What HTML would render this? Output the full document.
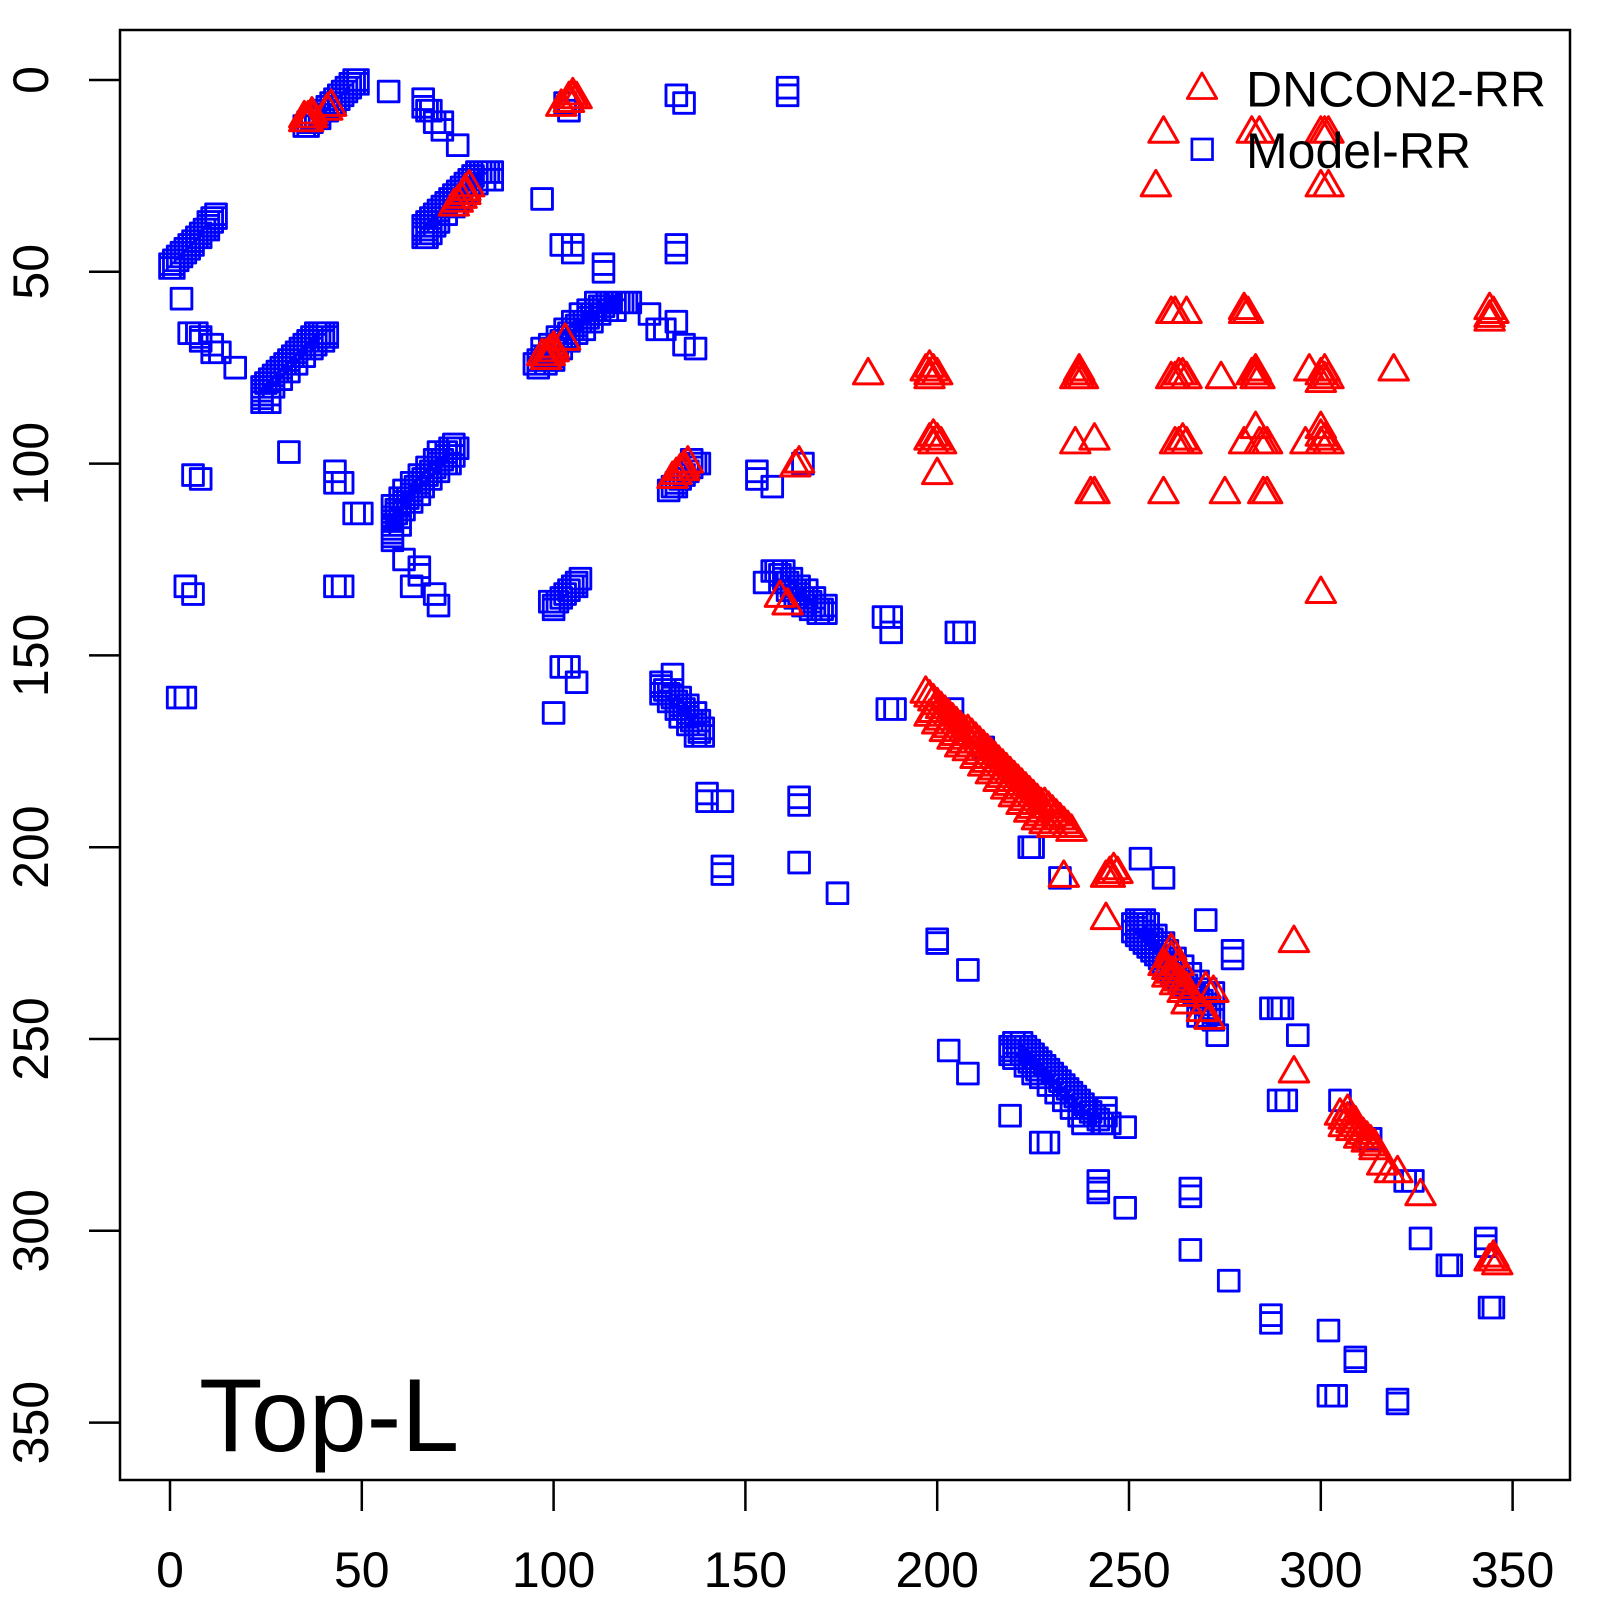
<!DOCTYPE html>
<html><head><meta charset="utf-8"><style>html,body{margin:0;padding:0;background:#fff}svg{display:block}text{font-family:"Liberation Sans",Arial,sans-serif;fill:#000}</style></head>
<body>
<svg width="1600" height="1600" viewBox="0 0 1600 1600">
<rect width="1600" height="1600" fill="#fff"/>
<g transform="translate(170 80) scale(3.836)" fill="none" stroke-linejoin="round">
<path stroke="#00f" stroke-width="0.75" d="M35 12m-2.7-2.7h5.4v5.4h-5.4zM36 11m-2.7-2.7h5.4v5.4h-5.4zM37 10m-2.7-2.7h5.4v5.4h-5.4zM38 10m-2.7-2.7h5.4v5.4h-5.4zM39 9m-2.7-2.7h5.4v5.4h-5.4zM40 8m-2.7-2.7h5.4v5.4h-5.4zM41 7m-2.7-2.7h5.4v5.4h-5.4zM42 6m-2.7-2.7h5.4v5.4h-5.4zM43 5m-2.7-2.7h5.4v5.4h-5.4zM44 4m-2.7-2.7h5.4v5.4h-5.4zM45 3m-2.7-2.7h5.4v5.4h-5.4zM46 2m-2.7-2.7h5.4v5.4h-5.4zM47 1m-2.7-2.7h5.4v5.4h-5.4zM48 1m-2.7-2.7h5.4v5.4h-5.4zM49 1m-2.7-2.7h5.4v5.4h-5.4zM36 12m-2.7-2.7h5.4v5.4h-5.4zM37 11m-2.7-2.7h5.4v5.4h-5.4zM39 10m-2.7-2.7h5.4v5.4h-5.4zM41 8m-2.7-2.7h5.4v5.4h-5.4zM43 6m-2.7-2.7h5.4v5.4h-5.4zM44 5m-2.7-2.7h5.4v5.4h-5.4zM45 4m-2.7-2.7h5.4v5.4h-5.4zM46 3m-2.7-2.7h5.4v5.4h-5.4zM47 2m-2.7-2.7h5.4v5.4h-5.4zM48 0m-2.7-2.7h5.4v5.4h-5.4zM49 0m-2.7-2.7h5.4v5.4h-5.4zM57 3m-2.7-2.7h5.4v5.4h-5.4zM66 5m-2.7-2.7h5.4v5.4h-5.4zM66 7m-2.7-2.7h5.4v5.4h-5.4zM67 8m-2.7-2.7h5.4v5.4h-5.4zM68 8m-2.7-2.7h5.4v5.4h-5.4zM69 11m-2.7-2.7h5.4v5.4h-5.4zM71 11m-2.7-2.7h5.4v5.4h-5.4zM71 13m-2.7-2.7h5.4v5.4h-5.4zM75 17m-2.7-2.7h5.4v5.4h-5.4zM66 41m-2.7-2.7h5.4v5.4h-5.4zM66 40m-2.7-2.7h5.4v5.4h-5.4zM66 39m-2.7-2.7h5.4v5.4h-5.4zM66 38m-2.7-2.7h5.4v5.4h-5.4zM67 37m-2.7-2.7h5.4v5.4h-5.4zM67 41m-2.7-2.7h5.4v5.4h-5.4zM68 36m-2.7-2.7h5.4v5.4h-5.4zM68 40m-2.7-2.7h5.4v5.4h-5.4zM69 35m-2.7-2.7h5.4v5.4h-5.4zM69 38m-2.7-2.7h5.4v5.4h-5.4zM70 34m-2.7-2.7h5.4v5.4h-5.4zM71 33m-2.7-2.7h5.4v5.4h-5.4zM72 32m-2.7-2.7h5.4v5.4h-5.4zM72 35m-2.7-2.7h5.4v5.4h-5.4zM73 31m-2.7-2.7h5.4v5.4h-5.4zM74 30m-2.7-2.7h5.4v5.4h-5.4zM75 29m-2.7-2.7h5.4v5.4h-5.4zM76 28m-2.7-2.7h5.4v5.4h-5.4zM77 27m-2.7-2.7h5.4v5.4h-5.4zM78 26m-2.7-2.7h5.4v5.4h-5.4zM79 25m-2.7-2.7h5.4v5.4h-5.4zM80 24m-2.7-2.7h5.4v5.4h-5.4zM81 24m-2.7-2.7h5.4v5.4h-5.4zM82 24m-2.7-2.7h5.4v5.4h-5.4zM83 24m-2.7-2.7h5.4v5.4h-5.4zM84 24m-2.7-2.7h5.4v5.4h-5.4zM84 26m-2.7-2.7h5.4v5.4h-5.4zM82 26m-2.7-2.7h5.4v5.4h-5.4zM80 27m-2.7-2.7h5.4v5.4h-5.4zM78 29m-2.7-2.7h5.4v5.4h-5.4zM76 31m-2.7-2.7h5.4v5.4h-5.4zM74 33m-2.7-2.7h5.4v5.4h-5.4zM70 37m-2.7-2.7h5.4v5.4h-5.4zM68 38m-2.7-2.7h5.4v5.4h-5.4zM67 39m-2.7-2.7h5.4v5.4h-5.4zM97 31m-2.7-2.7h5.4v5.4h-5.4zM103 6m-2.7-2.7h5.4v5.4h-5.4zM104 8m-2.7-2.7h5.4v5.4h-5.4zM102 43m-2.7-2.7h5.4v5.4h-5.4zM105 43m-2.7-2.7h5.4v5.4h-5.4zM105 45m-2.7-2.7h5.4v5.4h-5.4zM113 48m-2.7-2.7h5.4v5.4h-5.4zM113 50m-2.7-2.7h5.4v5.4h-5.4zM132 43m-2.7-2.7h5.4v5.4h-5.4zM132 45m-2.7-2.7h5.4v5.4h-5.4zM132 4m-2.7-2.7h5.4v5.4h-5.4zM134 6m-2.7-2.7h5.4v5.4h-5.4zM161 2m-2.7-2.7h5.4v5.4h-5.4zM161 4m-2.7-2.7h5.4v5.4h-5.4zM95 74m-2.7-2.7h5.4v5.4h-5.4zM96 73m-2.7-2.7h5.4v5.4h-5.4zM97 72m-2.7-2.7h5.4v5.4h-5.4zM98 72m-2.7-2.7h5.4v5.4h-5.4zM99 71m-2.7-2.7h5.4v5.4h-5.4zM100 70m-2.7-2.7h5.4v5.4h-5.4zM101 69m-2.7-2.7h5.4v5.4h-5.4zM102 68m-2.7-2.7h5.4v5.4h-5.4zM103 67m-2.7-2.7h5.4v5.4h-5.4zM104 66m-2.7-2.7h5.4v5.4h-5.4zM105 65m-2.7-2.7h5.4v5.4h-5.4zM106 64m-2.7-2.7h5.4v5.4h-5.4zM107 63m-2.7-2.7h5.4v5.4h-5.4zM108 63m-2.7-2.7h5.4v5.4h-5.4zM109 62m-2.7-2.7h5.4v5.4h-5.4zM110 61m-2.7-2.7h5.4v5.4h-5.4zM111 60m-2.7-2.7h5.4v5.4h-5.4zM112 59m-2.7-2.7h5.4v5.4h-5.4zM113 59m-2.7-2.7h5.4v5.4h-5.4zM114 58m-2.7-2.7h5.4v5.4h-5.4zM115 58m-2.7-2.7h5.4v5.4h-5.4zM116 58m-2.7-2.7h5.4v5.4h-5.4zM117 58m-2.7-2.7h5.4v5.4h-5.4zM118 58m-2.7-2.7h5.4v5.4h-5.4zM119 58m-2.7-2.7h5.4v5.4h-5.4zM120 58m-2.7-2.7h5.4v5.4h-5.4zM96 75m-2.7-2.7h5.4v5.4h-5.4zM98 74m-2.7-2.7h5.4v5.4h-5.4zM100 72m-2.7-2.7h5.4v5.4h-5.4zM102 70m-2.7-2.7h5.4v5.4h-5.4zM104 68m-2.7-2.7h5.4v5.4h-5.4zM106 66m-2.7-2.7h5.4v5.4h-5.4zM108 65m-2.7-2.7h5.4v5.4h-5.4zM110 63m-2.7-2.7h5.4v5.4h-5.4zM112 61m-2.7-2.7h5.4v5.4h-5.4zM114 60m-2.7-2.7h5.4v5.4h-5.4zM116 60m-2.7-2.7h5.4v5.4h-5.4zM100 73m-2.7-2.7h5.4v5.4h-5.4zM97 70m-2.7-2.7h5.4v5.4h-5.4zM99 69m-2.7-2.7h5.4v5.4h-5.4zM101 67m-2.7-2.7h5.4v5.4h-5.4zM103 65m-2.7-2.7h5.4v5.4h-5.4zM105 63m-2.7-2.7h5.4v5.4h-5.4zM107 61m-2.7-2.7h5.4v5.4h-5.4zM109 60m-2.7-2.7h5.4v5.4h-5.4zM111 58m-2.7-2.7h5.4v5.4h-5.4zM125 61m-2.7-2.7h5.4v5.4h-5.4zM127 65m-2.7-2.7h5.4v5.4h-5.4zM129 65m-2.7-2.7h5.4v5.4h-5.4zM132 63m-2.7-2.7h5.4v5.4h-5.4zM134 69m-2.7-2.7h5.4v5.4h-5.4zM137 70m-2.7-2.7h5.4v5.4h-5.4zM130 107m-2.7-2.7h5.4v5.4h-5.4zM131 106m-2.7-2.7h5.4v5.4h-5.4zM132 105m-2.7-2.7h5.4v5.4h-5.4zM133 104m-2.7-2.7h5.4v5.4h-5.4zM134 103m-2.7-2.7h5.4v5.4h-5.4zM135 102m-2.7-2.7h5.4v5.4h-5.4zM136 101m-2.7-2.7h5.4v5.4h-5.4zM137 100m-2.7-2.7h5.4v5.4h-5.4zM138 100m-2.7-2.7h5.4v5.4h-5.4zM132 106m-2.7-2.7h5.4v5.4h-5.4zM136 99m-2.7-2.7h5.4v5.4h-5.4zM153 102m-2.7-2.7h5.4v5.4h-5.4zM153 104m-2.7-2.7h5.4v5.4h-5.4zM157 106m-2.7-2.7h5.4v5.4h-5.4zM165 100m-2.7-2.7h5.4v5.4h-5.4zM155 131m-2.7-2.7h5.4v5.4h-5.4zM157 128m-2.7-2.7h5.4v5.4h-5.4zM158 128m-2.7-2.7h5.4v5.4h-5.4zM159 129m-2.7-2.7h5.4v5.4h-5.4zM160 130m-2.7-2.7h5.4v5.4h-5.4zM161 131m-2.7-2.7h5.4v5.4h-5.4zM162 132m-2.7-2.7h5.4v5.4h-5.4zM163 133m-2.7-2.7h5.4v5.4h-5.4zM164 134m-2.7-2.7h5.4v5.4h-5.4zM165 135m-2.7-2.7h5.4v5.4h-5.4zM166 135m-2.7-2.7h5.4v5.4h-5.4zM167 136m-2.7-2.7h5.4v5.4h-5.4zM168 137m-2.7-2.7h5.4v5.4h-5.4zM169 138m-2.7-2.7h5.4v5.4h-5.4zM170 138m-2.7-2.7h5.4v5.4h-5.4zM171 139m-2.7-2.7h5.4v5.4h-5.4zM159 131m-2.7-2.7h5.4v5.4h-5.4zM161 133m-2.7-2.7h5.4v5.4h-5.4zM163 135m-2.7-2.7h5.4v5.4h-5.4zM165 137m-2.7-2.7h5.4v5.4h-5.4zM167 138m-2.7-2.7h5.4v5.4h-5.4zM169 139m-2.7-2.7h5.4v5.4h-5.4zM171 137m-2.7-2.7h5.4v5.4h-5.4zM160 128m-2.7-2.7h5.4v5.4h-5.4zM162 130m-2.7-2.7h5.4v5.4h-5.4zM164 132m-2.7-2.7h5.4v5.4h-5.4zM166 133m-2.7-2.7h5.4v5.4h-5.4zM168 135m-2.7-2.7h5.4v5.4h-5.4zM186 140m-2.7-2.7h5.4v5.4h-5.4zM188 140m-2.7-2.7h5.4v5.4h-5.4zM188 144m-2.7-2.7h5.4v5.4h-5.4zM205 144m-2.7-2.7h5.4v5.4h-5.4zM207 144m-2.7-2.7h5.4v5.4h-5.4zM187 164m-2.7-2.7h5.4v5.4h-5.4zM189 164m-2.7-2.7h5.4v5.4h-5.4zM204 164m-2.7-2.7h5.4v5.4h-5.4zM212 174m-2.7-2.7h5.4v5.4h-5.4zM224 200m-2.7-2.7h5.4v5.4h-5.4zM225 200m-2.7-2.7h5.4v5.4h-5.4zM232 208m-2.7-2.7h5.4v5.4h-5.4zM253 203m-2.7-2.7h5.4v5.4h-5.4zM259 208m-2.7-2.7h5.4v5.4h-5.4zM270 219m-2.7-2.7h5.4v5.4h-5.4zM277 227m-2.7-2.7h5.4v5.4h-5.4zM277 229m-2.7-2.7h5.4v5.4h-5.4zM287 242m-2.7-2.7h5.4v5.4h-5.4zM289 242m-2.7-2.7h5.4v5.4h-5.4zM290 242m-2.7-2.7h5.4v5.4h-5.4zM273 249m-2.7-2.7h5.4v5.4h-5.4zM294 249m-2.7-2.7h5.4v5.4h-5.4zM289 266m-2.7-2.7h5.4v5.4h-5.4zM291 266m-2.7-2.7h5.4v5.4h-5.4zM305 266m-2.7-2.7h5.4v5.4h-5.4zM313 276m-2.7-2.7h5.4v5.4h-5.4zM322 287m-2.7-2.7h5.4v5.4h-5.4zM324 287m-2.7-2.7h5.4v5.4h-5.4zM326 302m-2.7-2.7h5.4v5.4h-5.4zM333 309m-2.7-2.7h5.4v5.4h-5.4zM334 309m-2.7-2.7h5.4v5.4h-5.4zM343 302m-2.7-2.7h5.4v5.4h-5.4zM343 304m-2.7-2.7h5.4v5.4h-5.4zM344 320m-2.7-2.7h5.4v5.4h-5.4zM345 320m-2.7-2.7h5.4v5.4h-5.4zM251 220m-2.7-2.7h5.4v5.4h-5.4zM252 219m-2.7-2.7h5.4v5.4h-5.4zM253 219m-2.7-2.7h5.4v5.4h-5.4zM254 219m-2.7-2.7h5.4v5.4h-5.4zM251 222m-2.7-2.7h5.4v5.4h-5.4zM252 223m-2.7-2.7h5.4v5.4h-5.4zM253 224m-2.7-2.7h5.4v5.4h-5.4zM254 225m-2.7-2.7h5.4v5.4h-5.4zM255 226m-2.7-2.7h5.4v5.4h-5.4zM256 227m-2.7-2.7h5.4v5.4h-5.4zM257 228m-2.7-2.7h5.4v5.4h-5.4zM258 229m-2.7-2.7h5.4v5.4h-5.4zM259 230m-2.7-2.7h5.4v5.4h-5.4zM260 231m-2.7-2.7h5.4v5.4h-5.4zM261 232m-2.7-2.7h5.4v5.4h-5.4zM262 233m-2.7-2.7h5.4v5.4h-5.4zM263 234m-2.7-2.7h5.4v5.4h-5.4zM264 235m-2.7-2.7h5.4v5.4h-5.4zM265 236m-2.7-2.7h5.4v5.4h-5.4zM266 237m-2.7-2.7h5.4v5.4h-5.4zM267 238m-2.7-2.7h5.4v5.4h-5.4zM268 239m-2.7-2.7h5.4v5.4h-5.4zM269 240m-2.7-2.7h5.4v5.4h-5.4zM270 241m-2.7-2.7h5.4v5.4h-5.4zM271 242m-2.7-2.7h5.4v5.4h-5.4zM272 243m-2.7-2.7h5.4v5.4h-5.4zM268 244m-2.7-2.7h5.4v5.4h-5.4zM270 244m-2.7-2.7h5.4v5.4h-5.4zM272 245m-2.7-2.7h5.4v5.4h-5.4zM254 222m-2.7-2.7h5.4v5.4h-5.4zM256 224m-2.7-2.7h5.4v5.4h-5.4zM258 226m-2.7-2.7h5.4v5.4h-5.4zM260 227m-2.7-2.7h5.4v5.4h-5.4zM262 229m-2.7-2.7h5.4v5.4h-5.4zM264 231m-2.7-2.7h5.4v5.4h-5.4zM266 233m-2.7-2.7h5.4v5.4h-5.4zM268 235m-2.7-2.7h5.4v5.4h-5.4zM270 237m-2.7-2.7h5.4v5.4h-5.4zM272 238m-2.7-2.7h5.4v5.4h-5.4zM252 221m-2.7-2.7h5.4v5.4h-5.4zM255 220m-2.7-2.7h5.4v5.4h-5.4zM257 223m-2.7-2.7h5.4v5.4h-5.4zM259 225m-2.7-2.7h5.4v5.4h-5.4z"/>
<path stroke="#00f" stroke-width="0.75" transform="matrix(0 1 1 0 0 0)" d="M35 12m-2.7-2.7h5.4v5.4h-5.4zM36 11m-2.7-2.7h5.4v5.4h-5.4zM37 10m-2.7-2.7h5.4v5.4h-5.4zM38 10m-2.7-2.7h5.4v5.4h-5.4zM39 9m-2.7-2.7h5.4v5.4h-5.4zM40 8m-2.7-2.7h5.4v5.4h-5.4zM41 7m-2.7-2.7h5.4v5.4h-5.4zM42 6m-2.7-2.7h5.4v5.4h-5.4zM43 5m-2.7-2.7h5.4v5.4h-5.4zM44 4m-2.7-2.7h5.4v5.4h-5.4zM45 3m-2.7-2.7h5.4v5.4h-5.4zM46 2m-2.7-2.7h5.4v5.4h-5.4zM47 1m-2.7-2.7h5.4v5.4h-5.4zM48 1m-2.7-2.7h5.4v5.4h-5.4zM49 1m-2.7-2.7h5.4v5.4h-5.4zM36 12m-2.7-2.7h5.4v5.4h-5.4zM37 11m-2.7-2.7h5.4v5.4h-5.4zM39 10m-2.7-2.7h5.4v5.4h-5.4zM41 8m-2.7-2.7h5.4v5.4h-5.4zM43 6m-2.7-2.7h5.4v5.4h-5.4zM44 5m-2.7-2.7h5.4v5.4h-5.4zM45 4m-2.7-2.7h5.4v5.4h-5.4zM46 3m-2.7-2.7h5.4v5.4h-5.4zM47 2m-2.7-2.7h5.4v5.4h-5.4zM48 0m-2.7-2.7h5.4v5.4h-5.4zM49 0m-2.7-2.7h5.4v5.4h-5.4zM57 3m-2.7-2.7h5.4v5.4h-5.4zM66 5m-2.7-2.7h5.4v5.4h-5.4zM66 7m-2.7-2.7h5.4v5.4h-5.4zM67 8m-2.7-2.7h5.4v5.4h-5.4zM68 8m-2.7-2.7h5.4v5.4h-5.4zM69 11m-2.7-2.7h5.4v5.4h-5.4zM71 11m-2.7-2.7h5.4v5.4h-5.4zM71 13m-2.7-2.7h5.4v5.4h-5.4zM75 17m-2.7-2.7h5.4v5.4h-5.4zM66 41m-2.7-2.7h5.4v5.4h-5.4zM66 40m-2.7-2.7h5.4v5.4h-5.4zM66 39m-2.7-2.7h5.4v5.4h-5.4zM66 38m-2.7-2.7h5.4v5.4h-5.4zM67 37m-2.7-2.7h5.4v5.4h-5.4zM67 41m-2.7-2.7h5.4v5.4h-5.4zM68 36m-2.7-2.7h5.4v5.4h-5.4zM68 40m-2.7-2.7h5.4v5.4h-5.4zM69 35m-2.7-2.7h5.4v5.4h-5.4zM69 38m-2.7-2.7h5.4v5.4h-5.4zM70 34m-2.7-2.7h5.4v5.4h-5.4zM71 33m-2.7-2.7h5.4v5.4h-5.4zM72 32m-2.7-2.7h5.4v5.4h-5.4zM72 35m-2.7-2.7h5.4v5.4h-5.4zM73 31m-2.7-2.7h5.4v5.4h-5.4zM74 30m-2.7-2.7h5.4v5.4h-5.4zM75 29m-2.7-2.7h5.4v5.4h-5.4zM76 28m-2.7-2.7h5.4v5.4h-5.4zM77 27m-2.7-2.7h5.4v5.4h-5.4zM78 26m-2.7-2.7h5.4v5.4h-5.4zM79 25m-2.7-2.7h5.4v5.4h-5.4zM80 24m-2.7-2.7h5.4v5.4h-5.4zM81 24m-2.7-2.7h5.4v5.4h-5.4zM82 24m-2.7-2.7h5.4v5.4h-5.4zM83 24m-2.7-2.7h5.4v5.4h-5.4zM84 24m-2.7-2.7h5.4v5.4h-5.4zM84 26m-2.7-2.7h5.4v5.4h-5.4zM82 26m-2.7-2.7h5.4v5.4h-5.4zM80 27m-2.7-2.7h5.4v5.4h-5.4zM78 29m-2.7-2.7h5.4v5.4h-5.4zM76 31m-2.7-2.7h5.4v5.4h-5.4zM74 33m-2.7-2.7h5.4v5.4h-5.4zM70 37m-2.7-2.7h5.4v5.4h-5.4zM68 38m-2.7-2.7h5.4v5.4h-5.4zM67 39m-2.7-2.7h5.4v5.4h-5.4zM97 31m-2.7-2.7h5.4v5.4h-5.4zM103 6m-2.7-2.7h5.4v5.4h-5.4zM104 8m-2.7-2.7h5.4v5.4h-5.4zM102 43m-2.7-2.7h5.4v5.4h-5.4zM105 43m-2.7-2.7h5.4v5.4h-5.4zM105 45m-2.7-2.7h5.4v5.4h-5.4zM113 48m-2.7-2.7h5.4v5.4h-5.4zM113 50m-2.7-2.7h5.4v5.4h-5.4zM132 43m-2.7-2.7h5.4v5.4h-5.4zM132 45m-2.7-2.7h5.4v5.4h-5.4zM132 4m-2.7-2.7h5.4v5.4h-5.4zM134 6m-2.7-2.7h5.4v5.4h-5.4zM161 2m-2.7-2.7h5.4v5.4h-5.4zM161 4m-2.7-2.7h5.4v5.4h-5.4zM95 74m-2.7-2.7h5.4v5.4h-5.4zM96 73m-2.7-2.7h5.4v5.4h-5.4zM97 72m-2.7-2.7h5.4v5.4h-5.4zM98 72m-2.7-2.7h5.4v5.4h-5.4zM99 71m-2.7-2.7h5.4v5.4h-5.4zM100 70m-2.7-2.7h5.4v5.4h-5.4zM101 69m-2.7-2.7h5.4v5.4h-5.4zM102 68m-2.7-2.7h5.4v5.4h-5.4zM103 67m-2.7-2.7h5.4v5.4h-5.4zM104 66m-2.7-2.7h5.4v5.4h-5.4zM105 65m-2.7-2.7h5.4v5.4h-5.4zM106 64m-2.7-2.7h5.4v5.4h-5.4zM107 63m-2.7-2.7h5.4v5.4h-5.4zM108 63m-2.7-2.7h5.4v5.4h-5.4zM109 62m-2.7-2.7h5.4v5.4h-5.4zM110 61m-2.7-2.7h5.4v5.4h-5.4zM111 60m-2.7-2.7h5.4v5.4h-5.4zM112 59m-2.7-2.7h5.4v5.4h-5.4zM113 59m-2.7-2.7h5.4v5.4h-5.4zM114 58m-2.7-2.7h5.4v5.4h-5.4zM115 58m-2.7-2.7h5.4v5.4h-5.4zM116 58m-2.7-2.7h5.4v5.4h-5.4zM117 58m-2.7-2.7h5.4v5.4h-5.4zM118 58m-2.7-2.7h5.4v5.4h-5.4zM119 58m-2.7-2.7h5.4v5.4h-5.4zM120 58m-2.7-2.7h5.4v5.4h-5.4zM96 75m-2.7-2.7h5.4v5.4h-5.4zM98 74m-2.7-2.7h5.4v5.4h-5.4zM100 72m-2.7-2.7h5.4v5.4h-5.4zM102 70m-2.7-2.7h5.4v5.4h-5.4zM104 68m-2.7-2.7h5.4v5.4h-5.4zM106 66m-2.7-2.7h5.4v5.4h-5.4zM108 65m-2.7-2.7h5.4v5.4h-5.4zM110 63m-2.7-2.7h5.4v5.4h-5.4zM112 61m-2.7-2.7h5.4v5.4h-5.4zM114 60m-2.7-2.7h5.4v5.4h-5.4zM116 60m-2.7-2.7h5.4v5.4h-5.4zM100 73m-2.7-2.7h5.4v5.4h-5.4zM97 70m-2.7-2.7h5.4v5.4h-5.4zM99 69m-2.7-2.7h5.4v5.4h-5.4zM101 67m-2.7-2.7h5.4v5.4h-5.4zM103 65m-2.7-2.7h5.4v5.4h-5.4zM105 63m-2.7-2.7h5.4v5.4h-5.4zM107 61m-2.7-2.7h5.4v5.4h-5.4zM109 60m-2.7-2.7h5.4v5.4h-5.4zM111 58m-2.7-2.7h5.4v5.4h-5.4zM125 61m-2.7-2.7h5.4v5.4h-5.4zM127 65m-2.7-2.7h5.4v5.4h-5.4zM129 65m-2.7-2.7h5.4v5.4h-5.4zM132 63m-2.7-2.7h5.4v5.4h-5.4zM134 69m-2.7-2.7h5.4v5.4h-5.4zM137 70m-2.7-2.7h5.4v5.4h-5.4zM130 107m-2.7-2.7h5.4v5.4h-5.4zM131 106m-2.7-2.7h5.4v5.4h-5.4zM132 105m-2.7-2.7h5.4v5.4h-5.4zM133 104m-2.7-2.7h5.4v5.4h-5.4zM134 103m-2.7-2.7h5.4v5.4h-5.4zM135 102m-2.7-2.7h5.4v5.4h-5.4zM136 101m-2.7-2.7h5.4v5.4h-5.4zM137 100m-2.7-2.7h5.4v5.4h-5.4zM138 100m-2.7-2.7h5.4v5.4h-5.4zM132 106m-2.7-2.7h5.4v5.4h-5.4zM136 99m-2.7-2.7h5.4v5.4h-5.4zM153 102m-2.7-2.7h5.4v5.4h-5.4zM153 104m-2.7-2.7h5.4v5.4h-5.4zM157 106m-2.7-2.7h5.4v5.4h-5.4zM165 100m-2.7-2.7h5.4v5.4h-5.4zM155 131m-2.7-2.7h5.4v5.4h-5.4zM157 128m-2.7-2.7h5.4v5.4h-5.4zM158 128m-2.7-2.7h5.4v5.4h-5.4zM159 129m-2.7-2.7h5.4v5.4h-5.4zM160 130m-2.7-2.7h5.4v5.4h-5.4zM161 131m-2.7-2.7h5.4v5.4h-5.4zM162 132m-2.7-2.7h5.4v5.4h-5.4zM163 133m-2.7-2.7h5.4v5.4h-5.4zM164 134m-2.7-2.7h5.4v5.4h-5.4zM165 135m-2.7-2.7h5.4v5.4h-5.4zM166 135m-2.7-2.7h5.4v5.4h-5.4zM167 136m-2.7-2.7h5.4v5.4h-5.4zM168 137m-2.7-2.7h5.4v5.4h-5.4zM169 138m-2.7-2.7h5.4v5.4h-5.4zM170 138m-2.7-2.7h5.4v5.4h-5.4zM171 139m-2.7-2.7h5.4v5.4h-5.4zM159 131m-2.7-2.7h5.4v5.4h-5.4zM161 133m-2.7-2.7h5.4v5.4h-5.4zM163 135m-2.7-2.7h5.4v5.4h-5.4zM165 137m-2.7-2.7h5.4v5.4h-5.4zM167 138m-2.7-2.7h5.4v5.4h-5.4zM169 139m-2.7-2.7h5.4v5.4h-5.4zM171 137m-2.7-2.7h5.4v5.4h-5.4zM160 128m-2.7-2.7h5.4v5.4h-5.4zM162 130m-2.7-2.7h5.4v5.4h-5.4zM164 132m-2.7-2.7h5.4v5.4h-5.4zM166 133m-2.7-2.7h5.4v5.4h-5.4zM168 135m-2.7-2.7h5.4v5.4h-5.4zM186 140m-2.7-2.7h5.4v5.4h-5.4zM188 140m-2.7-2.7h5.4v5.4h-5.4zM188 144m-2.7-2.7h5.4v5.4h-5.4zM205 144m-2.7-2.7h5.4v5.4h-5.4zM207 144m-2.7-2.7h5.4v5.4h-5.4zM187 164m-2.7-2.7h5.4v5.4h-5.4zM189 164m-2.7-2.7h5.4v5.4h-5.4zM204 164m-2.7-2.7h5.4v5.4h-5.4zM212 174m-2.7-2.7h5.4v5.4h-5.4zM224 200m-2.7-2.7h5.4v5.4h-5.4zM225 200m-2.7-2.7h5.4v5.4h-5.4zM232 208m-2.7-2.7h5.4v5.4h-5.4zM253 203m-2.7-2.7h5.4v5.4h-5.4zM259 208m-2.7-2.7h5.4v5.4h-5.4zM270 219m-2.7-2.7h5.4v5.4h-5.4zM277 227m-2.7-2.7h5.4v5.4h-5.4zM277 229m-2.7-2.7h5.4v5.4h-5.4zM287 242m-2.7-2.7h5.4v5.4h-5.4zM289 242m-2.7-2.7h5.4v5.4h-5.4zM290 242m-2.7-2.7h5.4v5.4h-5.4zM273 249m-2.7-2.7h5.4v5.4h-5.4zM294 249m-2.7-2.7h5.4v5.4h-5.4zM289 266m-2.7-2.7h5.4v5.4h-5.4zM291 266m-2.7-2.7h5.4v5.4h-5.4zM305 266m-2.7-2.7h5.4v5.4h-5.4zM313 276m-2.7-2.7h5.4v5.4h-5.4zM322 287m-2.7-2.7h5.4v5.4h-5.4zM324 287m-2.7-2.7h5.4v5.4h-5.4zM326 302m-2.7-2.7h5.4v5.4h-5.4zM333 309m-2.7-2.7h5.4v5.4h-5.4zM334 309m-2.7-2.7h5.4v5.4h-5.4zM343 302m-2.7-2.7h5.4v5.4h-5.4zM343 304m-2.7-2.7h5.4v5.4h-5.4zM344 320m-2.7-2.7h5.4v5.4h-5.4zM345 320m-2.7-2.7h5.4v5.4h-5.4zM251 220m-2.7-2.7h5.4v5.4h-5.4zM252 219m-2.7-2.7h5.4v5.4h-5.4zM253 219m-2.7-2.7h5.4v5.4h-5.4zM254 219m-2.7-2.7h5.4v5.4h-5.4zM251 222m-2.7-2.7h5.4v5.4h-5.4zM252 223m-2.7-2.7h5.4v5.4h-5.4zM253 224m-2.7-2.7h5.4v5.4h-5.4zM254 225m-2.7-2.7h5.4v5.4h-5.4zM255 226m-2.7-2.7h5.4v5.4h-5.4zM256 227m-2.7-2.7h5.4v5.4h-5.4zM257 228m-2.7-2.7h5.4v5.4h-5.4zM258 229m-2.7-2.7h5.4v5.4h-5.4zM259 230m-2.7-2.7h5.4v5.4h-5.4zM260 231m-2.7-2.7h5.4v5.4h-5.4zM261 232m-2.7-2.7h5.4v5.4h-5.4zM262 233m-2.7-2.7h5.4v5.4h-5.4zM263 234m-2.7-2.7h5.4v5.4h-5.4zM264 235m-2.7-2.7h5.4v5.4h-5.4zM265 236m-2.7-2.7h5.4v5.4h-5.4zM266 237m-2.7-2.7h5.4v5.4h-5.4zM267 238m-2.7-2.7h5.4v5.4h-5.4zM268 239m-2.7-2.7h5.4v5.4h-5.4zM269 240m-2.7-2.7h5.4v5.4h-5.4zM270 241m-2.7-2.7h5.4v5.4h-5.4zM271 242m-2.7-2.7h5.4v5.4h-5.4zM272 243m-2.7-2.7h5.4v5.4h-5.4zM268 244m-2.7-2.7h5.4v5.4h-5.4zM270 244m-2.7-2.7h5.4v5.4h-5.4zM272 245m-2.7-2.7h5.4v5.4h-5.4zM254 222m-2.7-2.7h5.4v5.4h-5.4zM256 224m-2.7-2.7h5.4v5.4h-5.4zM258 226m-2.7-2.7h5.4v5.4h-5.4zM260 227m-2.7-2.7h5.4v5.4h-5.4zM262 229m-2.7-2.7h5.4v5.4h-5.4zM264 231m-2.7-2.7h5.4v5.4h-5.4zM266 233m-2.7-2.7h5.4v5.4h-5.4zM268 235m-2.7-2.7h5.4v5.4h-5.4zM270 237m-2.7-2.7h5.4v5.4h-5.4zM272 238m-2.7-2.7h5.4v5.4h-5.4zM252 221m-2.7-2.7h5.4v5.4h-5.4zM255 220m-2.7-2.7h5.4v5.4h-5.4zM257 223m-2.7-2.7h5.4v5.4h-5.4zM259 225m-2.7-2.7h5.4v5.4h-5.4z"/>
<path stroke="#f00" stroke-width="0.78" d="M35 11m0-4.43l3.84 6.65h-7.68zM36 10m0-4.43l3.84 6.65h-7.68zM37 9m0-4.43l3.84 6.65h-7.68zM36 11m0-4.43l3.84 6.65h-7.68zM35 10m0-4.43l3.84 6.65h-7.68zM37 10m0-4.43l3.84 6.65h-7.68zM41 8m0-4.43l3.84 6.65h-7.68zM42 7m0-4.43l3.84 6.65h-7.68zM74 33m0-4.43l3.84 6.65h-7.68zM75 32m0-4.43l3.84 6.65h-7.68zM76 31m0-4.43l3.84 6.65h-7.68zM77 30m0-4.43l3.84 6.65h-7.68zM78 28m0-4.43l3.84 6.65h-7.68zM77 29m0-4.43l3.84 6.65h-7.68zM102 7m0-4.43l3.84 6.65h-7.68zM104 6m0-4.43l3.84 6.65h-7.68zM104 5m0-4.43l3.84 6.65h-7.68zM105 4m0-4.43l3.84 6.65h-7.68zM105 5m0-4.43l3.84 6.65h-7.68zM106 5m0-4.43l3.84 6.65h-7.68zM97 72m0-4.43l3.84 6.65h-7.68zM98 72m0-4.43l3.84 6.65h-7.68zM98 73m0-4.43l3.84 6.65h-7.68zM99 71m0-4.43l3.84 6.65h-7.68zM99 72m0-4.43l3.84 6.65h-7.68zM100 71m0-4.43l3.84 6.65h-7.68zM100 70m0-4.43l3.84 6.65h-7.68zM103 68m0-4.43l3.84 6.65h-7.68zM131 104m0-4.43l3.84 6.65h-7.68zM132 103m0-4.43l3.84 6.65h-7.68zM133 102m0-4.43l3.84 6.65h-7.68zM134 101m0-4.43l3.84 6.65h-7.68zM135 100m0-4.43l3.84 6.65h-7.68zM134 102m0-4.43l3.84 6.65h-7.68zM163 101m0-4.43l3.84 6.65h-7.68zM164 100m0-4.43l3.84 6.65h-7.68zM159 135m0-4.43l3.84 6.65h-7.68zM161 137m0-4.43l3.84 6.65h-7.68zM182 77m0-4.43l3.84 6.65h-7.68zM197 76m0-4.43l3.84 6.65h-7.68zM198 75m0-4.43l3.84 6.65h-7.68zM198 77m0-4.43l3.84 6.65h-7.68zM199 76m0-4.43l3.84 6.65h-7.68zM200 77m0-4.43l3.84 6.65h-7.68zM198 78m0-4.43l3.84 6.65h-7.68zM198 94m0-4.43l3.84 6.65h-7.68zM199 93m0-4.43l3.84 6.65h-7.68zM200 94m0-4.43l3.84 6.65h-7.68zM201 95m0-4.43l3.84 6.65h-7.68zM199 95m0-4.43l3.84 6.65h-7.68zM200 103m0-4.43l3.84 6.65h-7.68zM259 14m0-4.43l3.84 6.65h-7.68zM257 28m0-4.43l3.84 6.65h-7.68zM282 14m0-4.43l3.84 6.65h-7.68zM284 14m0-4.43l3.84 6.65h-7.68zM300 14m0-4.43l3.84 6.65h-7.68zM301 14m0-4.43l3.84 6.65h-7.68zM302 14m0-4.43l3.84 6.65h-7.68zM300 28m0-4.43l3.84 6.65h-7.68zM302 28m0-4.43l3.84 6.65h-7.68zM261 61m0-4.43l3.84 6.65h-7.68zM262 61m0-4.43l3.84 6.65h-7.68zM265 61m0-4.43l3.84 6.65h-7.68zM280 60m0-4.43l3.84 6.65h-7.68zM280 61m0-4.43l3.84 6.65h-7.68zM281 61m0-4.43l3.84 6.65h-7.68zM344 60m0-4.43l3.84 6.65h-7.68zM344 62m0-4.43l3.84 6.65h-7.68zM344 63m0-4.43l3.84 6.65h-7.68zM345 61m0-4.43l3.84 6.65h-7.68zM237 76m0-4.43l3.84 6.65h-7.68zM237 77m0-4.43l3.84 6.65h-7.68zM237 78m0-4.43l3.84 6.65h-7.68zM236 78m0-4.43l3.84 6.65h-7.68zM238 78m0-4.43l3.84 6.65h-7.68zM261 78m0-4.43l3.84 6.65h-7.68zM262 78m0-4.43l3.84 6.65h-7.68zM263 77m0-4.43l3.84 6.65h-7.68zM264 77m0-4.43l3.84 6.65h-7.68zM265 78m0-4.43l3.84 6.65h-7.68zM274 78m0-4.43l3.84 6.65h-7.68zM282 77m0-4.43l3.84 6.65h-7.68zM283 77m0-4.43l3.84 6.65h-7.68zM283 78m0-4.43l3.84 6.65h-7.68zM284 78m0-4.43l3.84 6.65h-7.68zM283 76m0-4.43l3.84 6.65h-7.68zM297 76m0-4.43l3.84 6.65h-7.68zM300 77m0-4.43l3.84 6.65h-7.68zM301 78m0-4.43l3.84 6.65h-7.68zM300 79m0-4.43l3.84 6.65h-7.68zM302 78m0-4.43l3.84 6.65h-7.68zM301 76m0-4.43l3.84 6.65h-7.68zM319 76m0-4.43l3.84 6.65h-7.68zM236 95m0-4.43l3.84 6.65h-7.68zM241 94m0-4.43l3.84 6.65h-7.68zM262 95m0-4.43l3.84 6.65h-7.68zM263 95m0-4.43l3.84 6.65h-7.68zM264 94m0-4.43l3.84 6.65h-7.68zM265 95m0-4.43l3.84 6.65h-7.68zM283 91m0-4.43l3.84 6.65h-7.68zM280 95m0-4.43l3.84 6.65h-7.68zM284 95m0-4.43l3.84 6.65h-7.68zM285 95m0-4.43l3.84 6.65h-7.68zM286 95m0-4.43l3.84 6.65h-7.68zM300 91m0-4.43l3.84 6.65h-7.68zM296 95m0-4.43l3.84 6.65h-7.68zM300 95m0-4.43l3.84 6.65h-7.68zM301 94m0-4.43l3.84 6.65h-7.68zM302 95m0-4.43l3.84 6.65h-7.68zM300 93m0-4.43l3.84 6.65h-7.68zM240 108m0-4.43l3.84 6.65h-7.68zM241 108m0-4.43l3.84 6.65h-7.68zM259 108m0-4.43l3.84 6.65h-7.68zM275 108m0-4.43l3.84 6.65h-7.68zM285 108m0-4.43l3.84 6.65h-7.68zM286 108m0-4.43l3.84 6.65h-7.68zM300 134m0-4.43l3.84 6.65h-7.68zM197 160m0-4.43l3.84 6.65h-7.68zM198 161m0-4.43l3.84 6.65h-7.68zM198 166m0-4.43l3.84 6.65h-7.68zM199 162m0-4.43l3.84 6.65h-7.68zM199 165m0-4.43l3.84 6.65h-7.68zM200 163m0-4.43l3.84 6.65h-7.68zM200 168m0-4.43l3.84 6.65h-7.68zM201 164m0-4.43l3.84 6.65h-7.68zM201 167m0-4.43l3.84 6.65h-7.68zM202 165m0-4.43l3.84 6.65h-7.68zM202 170m0-4.43l3.84 6.65h-7.68zM203 166m0-4.43l3.84 6.65h-7.68zM203 169m0-4.43l3.84 6.65h-7.68zM204 167m0-4.43l3.84 6.65h-7.68zM204 172m0-4.43l3.84 6.65h-7.68zM205 168m0-4.43l3.84 6.65h-7.68zM205 171m0-4.43l3.84 6.65h-7.68zM206 169m0-4.43l3.84 6.65h-7.68zM206 174m0-4.43l3.84 6.65h-7.68zM207 170m0-4.43l3.84 6.65h-7.68zM207 173m0-4.43l3.84 6.65h-7.68zM208 170m0-4.43l3.84 6.65h-7.68zM208 175m0-4.43l3.84 6.65h-7.68zM209 171m0-4.43l3.84 6.65h-7.68zM209 174m0-4.43l3.84 6.65h-7.68zM210 172m0-4.43l3.84 6.65h-7.68zM210 177m0-4.43l3.84 6.65h-7.68zM211 173m0-4.43l3.84 6.65h-7.68zM211 176m0-4.43l3.84 6.65h-7.68zM212 174m0-4.43l3.84 6.65h-7.68zM212 179m0-4.43l3.84 6.65h-7.68zM213 175m0-4.43l3.84 6.65h-7.68zM213 178m0-4.43l3.84 6.65h-7.68zM214 176m0-4.43l3.84 6.65h-7.68zM214 181m0-4.43l3.84 6.65h-7.68zM215 177m0-4.43l3.84 6.65h-7.68zM215 180m0-4.43l3.84 6.65h-7.68zM216 178m0-4.43l3.84 6.65h-7.68zM216 183m0-4.43l3.84 6.65h-7.68zM217 179m0-4.43l3.84 6.65h-7.68zM217 182m0-4.43l3.84 6.65h-7.68zM218 180m0-4.43l3.84 6.65h-7.68zM218 185m0-4.43l3.84 6.65h-7.68zM219 181m0-4.43l3.84 6.65h-7.68zM219 184m0-4.43l3.84 6.65h-7.68zM220 182m0-4.43l3.84 6.65h-7.68zM220 187m0-4.43l3.84 6.65h-7.68zM221 183m0-4.43l3.84 6.65h-7.68zM221 186m0-4.43l3.84 6.65h-7.68zM222 184m0-4.43l3.84 6.65h-7.68zM222 189m0-4.43l3.84 6.65h-7.68zM223 185m0-4.43l3.84 6.65h-7.68zM223 188m0-4.43l3.84 6.65h-7.68zM224 186m0-4.43l3.84 6.65h-7.68zM224 191m0-4.43l3.84 6.65h-7.68zM225 187m0-4.43l3.84 6.65h-7.68zM225 190m0-4.43l3.84 6.65h-7.68zM226 188m0-4.43l3.84 6.65h-7.68zM226 193m0-4.43l3.84 6.65h-7.68zM227 189m0-4.43l3.84 6.65h-7.68zM227 192m0-4.43l3.84 6.65h-7.68zM228 189m0-4.43l3.84 6.65h-7.68zM228 194m0-4.43l3.84 6.65h-7.68zM229 190m0-4.43l3.84 6.65h-7.68zM229 193m0-4.43l3.84 6.65h-7.68zM230 191m0-4.43l3.84 6.65h-7.68zM230 195m0-4.43l3.84 6.65h-7.68zM231 192m0-4.43l3.84 6.65h-7.68zM232 193m0-4.43l3.84 6.65h-7.68zM233 194m0-4.43l3.84 6.65h-7.68zM234 195m0-4.43l3.84 6.65h-7.68zM235 196m0-4.43l3.84 6.65h-7.68zM259 231m0-4.43l3.84 6.65h-7.68zM260 232m0-4.43l3.84 6.65h-7.68zM261 233m0-4.43l3.84 6.65h-7.68zM262 234m0-4.43l3.84 6.65h-7.68zM263 235m0-4.43l3.84 6.65h-7.68zM264 236m0-4.43l3.84 6.65h-7.68zM265 237m0-4.43l3.84 6.65h-7.68zM260 234m0-4.43l3.84 6.65h-7.68zM262 236m0-4.43l3.84 6.65h-7.68zM264 238m0-4.43l3.84 6.65h-7.68zM266 239m0-4.43l3.84 6.65h-7.68zM265 241m0-4.43l3.84 6.65h-7.68zM261 229m0-4.43l3.84 6.65h-7.68zM263 231m0-4.43l3.84 6.65h-7.68zM270 237m0-4.43l3.84 6.65h-7.68zM272 238m0-4.43l3.84 6.65h-7.68zM271 245m0-4.43l3.84 6.65h-7.68zM269 243m0-4.43l3.84 6.65h-7.68zM261 227m0-4.43l3.84 6.65h-7.68zM305 270m0-4.43l3.84 6.65h-7.68zM306 271m0-4.43l3.84 6.65h-7.68zM307 271m0-4.43l3.84 6.65h-7.68zM308 272m0-4.43l3.84 6.65h-7.68zM309 273m0-4.43l3.84 6.65h-7.68zM310 274m0-4.43l3.84 6.65h-7.68zM311 275m0-4.43l3.84 6.65h-7.68zM312 276m0-4.43l3.84 6.65h-7.68zM313 277m0-4.43l3.84 6.65h-7.68zM314 278m0-4.43l3.84 6.65h-7.68zM306 273m0-4.43l3.84 6.65h-7.68zM308 274m0-4.43l3.84 6.65h-7.68zM310 276m0-4.43l3.84 6.65h-7.68zM312 277m0-4.43l3.84 6.65h-7.68zM314 279m0-4.43l3.84 6.65h-7.68zM316 283m0-4.43l3.84 6.65h-7.68zM318 285m0-4.43l3.84 6.65h-7.68zM320 285m0-4.43l3.84 6.65h-7.68zM326 291m0-4.43l3.84 6.65h-7.68zM307 269m0-4.43l3.84 6.65h-7.68zM309 272m0-4.43l3.84 6.65h-7.68zM345 307m0-4.43l3.84 6.65h-7.68zM345 308m0-4.43l3.84 6.65h-7.68zM346 309m0-4.43l3.84 6.65h-7.68zM344 308m0-4.43l3.84 6.65h-7.68zM233 208m0-4.43l3.84 6.65h-7.68zM244 208m0-4.43l3.84 6.65h-7.68zM245 207m0-4.43l3.84 6.65h-7.68zM246 206m0-4.43l3.84 6.65h-7.68zM247 207m0-4.43l3.84 6.65h-7.68zM245 208m0-4.43l3.84 6.65h-7.68zM244 219m0-4.43l3.84 6.65h-7.68zM293 225m0-4.43l3.84 6.65h-7.68zM293 259m0-4.43l3.84 6.65h-7.68z"/>
</g>
<rect x="120" y="30" width="1450" height="1450" fill="none" stroke="#000" stroke-width="2.5"/>
<path stroke="#000" stroke-width="2.5" fill="none" d="M170 1480v31M361.8 1480v31M553.6 1480v31M745.4 1480v31M937.2 1480v31M1129 1480v31M1320.8 1480v31M1512.6 1480v31M89 80h31M89 271.8h31M89 463.6h31M89 655.4h31M89 847.2h31M89 1039h31M89 1230.8h31M89 1422.6h31"/>
<g font-size="50" text-anchor="middle">
<text x="170" y="1587">0</text>
<text x="361.8" y="1587">50</text>
<text x="553.6" y="1587">100</text>
<text x="745.4" y="1587">150</text>
<text x="937.2" y="1587">200</text>
<text x="1129" y="1587">250</text>
<text x="1320.8" y="1587">300</text>
<text x="1512.6" y="1587">350</text>
<text transform="translate(48 80) rotate(-90)">0</text>
<text transform="translate(48 271.8) rotate(-90)">50</text>
<text transform="translate(48 463.6) rotate(-90)">100</text>
<text transform="translate(48 655.4) rotate(-90)">150</text>
<text transform="translate(48 847.2) rotate(-90)">200</text>
<text transform="translate(48 1039) rotate(-90)">250</text>
<text transform="translate(48 1230.8) rotate(-90)">300</text>
<text transform="translate(48 1422.6) rotate(-90)">350</text>
</g>
<text x="199" y="1451" font-size="104">Top-L</text>
<path d="M1202 73l14.7 25.5h-29.4z" fill="none" stroke="#f00" stroke-width="2.8" stroke-linejoin="round"/>
<rect x="1191.9" y="139" width="20.6" height="20.6" fill="none" stroke="#00f" stroke-width="2.7"/>
<text x="1246" y="106.5" font-size="50">DNCON2-RR</text>
<text x="1246" y="168" font-size="50">Model-RR</text>
</svg>
</body></html>
